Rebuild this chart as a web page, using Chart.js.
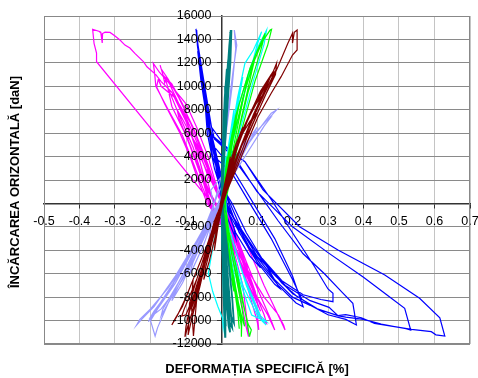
<!DOCTYPE html>
<html>
<head>
<meta charset="utf-8">
<script src="https://cdn.jsdelivr.net/npm/chart.js@4.4.0/dist/chart.umd.min.js"></script>
<style>
  html, body { margin: 0; padding: 0; background: #fff; }
  canvas { display: block; }
</style>
</head>
<body>
<canvas id="gaugeChart" width="478" height="378"></canvas>
<script>
// strain [%] vs. horizontal load [daN], one array per strain gauge
const gaugeDarkRed = [
  [0,0],[0.012,2000],[0.025,4000],[0.02,2500],[0.004,0],[-0.01,-2000],[-0.02,-4000],[-0.016,-2500],[-0.003,0],
  [0.015,2500],[0.04,5000],[0.06,6500],[0.05,5500],[0.025,2500],[0.002,0],[-0.015,-2500],[-0.035,-5000],[-0.05,-6500],[-0.045,-5500],[-0.02,-2500],[0,0],
  [0.02,3000],[0.05,5500],[0.08,7000],[0.099,7690],[0.085,7000],[0.05,4500],[0.01,1000],[-0.01,-1500],[-0.04,-4500],[-0.065,-7000],[-0.075,-8300],[-0.07,-7500],[-0.045,-4800],[-0.015,-1500],[0,0],
  [0.025,3200],[0.055,6000],[0.085,8000],[0.11,9000],[0.1,8200],[0.06,5200],[0.015,1200],[-0.012,-1800],[-0.045,-5000],[-0.07,-7800],[-0.085,-9000],[-0.08,-8200],[-0.05,-5200],[-0.018,-1800],[0,0],
  [0.03,3500],[0.065,6500],[0.1,8800],[0.13,10500],[0.15,11240],[0.14,10600],[0.1,8000],[0.05,4500],[0.01,1000],[-0.02,-2500],[-0.05,-5500],[-0.08,-8000],[-0.1,-9500],[-0.112,-9610],[-0.105,-9000],[-0.07,-6500],[-0.03,-2800],[0,0],
  [0.035,4000],[0.075,7200],[0.115,9500],[0.145,11200],[0.155,11960],[0.152,11000],[0.12,9000],[0.07,5500],[0.02,1500],[-0.02,-2200],[-0.06,-6000],[-0.09,-9000],[-0.1,-10500],[-0.103,-11380],[-0.095,-10500],[-0.07,-8000],[-0.035,-3800],[0,0],
  [0.03,3800],[0.07,7000],[0.11,9600],[0.14,11000],[0.13,10200],[0.09,7600],[0.04,3800],[0.005,500],[-0.03,-3000],[-0.06,-6200],[-0.085,-8600],[-0.095,-9800],[-0.09,-9200],[-0.06,-6500],[-0.025,-2500],[0,0],
  [0.046,4280],[0.084,6550],[0.122,9110],[0.159,11670],[0.187,13670],[0.2,14520],[0.2,13690],[0.205,14600],[0.213,14800],[0.213,13100],[0.2,12670],[0.168,10820],[0.14,9400],[0.103,7400],[0.075,5410],[0.04,2800],[0,0],
  [-0.04,-3500],[-0.08,-6500],[-0.11,-8800],[-0.13,-9800],[-0.14,-10380],[-0.125,-9600],[-0.1,-8000],[-0.08,-6500],[-0.085,-8500],[-0.079,-11320],[-0.07,-8250],[-0.05,-5000],[-0.02,-1500],[0,0],
  [-0.035,-3200],[-0.07,-6500],[-0.09,-8500],[-0.094,-11230],[-0.085,-10000],[-0.06,-7000],[-0.03,-3000],[0,0]
];

const gaugeTeal = [
  [0,0],[0.001,2000],[0.002,4000],[0.001,2000],[0,0],[0.004,-2000],[0.006,-4000],[0.005,-2000],[0.002,0],
  [0.002,3000],[0.005,6000],[0.006,8000],[0.004,5000],[0.001,1500],[0.003,-2000],[0.008,-5000],[0.012,-7000],[0.01,-5000],[0.004,-1500],[0.001,0],
  [0.004,4000],[0.008,8000],[0.012,10000],[0.01,8000],[0.004,4000],[0.002,0],[0.006,-4000],[0.012,-8000],[0.018,-9500],[0.015,-7500],[0.008,-3500],[0.002,0],
  [0.003,4000],[0.009,9000],[0.015,11500],[0.012,9000],[0.005,4000],[0.001,0],[0.003,-4000],[0.008,-8500],[0.012,-10500],[0.009,-8000],[0.004,-3000],[0,0],
  [0.005,5000],[0.012,9000],[0.018,12000],[0.022,13000],[0.018,10500],[0.01,6000],[0.003,1500],[0.004,-3000],[0.01,-7000],[0.02,-10000],[0.03,-10600],[0.024,-8500],[0.012,-4000],[0.003,0],
  [0.006,6000],[0.014,10000],[0.022,13500],[0.026,14800],[0.027,14000],[0.022,11000],[0.012,6500],[0.004,2000],[0.002,-3000],[0.006,-8000],[0.01,-11380],[0.012,-10500],[0.01,-7000],[0.004,-2500],[0,0],
  [0.007,6500],[0.016,11000],[0.024,14000],[0.028,14800],[0.025,12000],[0.015,7500],[0.005,2500],[0.001,-2000],[0.01,-6000],[0.025,-9500],[0.035,-10200],[0.03,-8000],[0.015,-3500],[0.002,0],
  [0.006,6000],[0.015,10500],[0.023,13800],[0.025,14600],[0.022,12500],[0.013,7500],[0.004,2000],[0.003,-3000],[0.012,-7500],[0.02,-10500],[0.024,-11000],[0.02,-8500],[0.01,-4000],[0,0]
];

const gaugeGreen = [
  [0,0],[0.008,2000],[0.016,4000],[0.012,2500],[0.002,0],[0.006,-2000],[0.012,-4000],[0.01,-2500],[0.002,0],
  [0.012,3000],[0.03,6000],[0.045,8000],[0.04,6800],[0.02,3200],[0.003,0],[0.012,-3000],[0.025,-6000],[0.035,-7500],[0.03,-6000],[0.014,-2500],[0.002,0],
  [0.015,3500],[0.04,7500],[0.065,10000],[0.075,11000],[0.065,9500],[0.035,5000],[0.005,0],[0.015,-3500],[0.035,-7000],[0.047,-9500],[0.05,-10700],[0.045,-9000],[0.025,-5000],[0.004,0],
  [0.018,3800],[0.045,8000],[0.075,11000],[0.095,12500],[0.085,11200],[0.05,6500],[0.01,500],[0.02,-3800],[0.04,-7500],[0.058,-9800],[0.065,-10500],[0.058,-9000],[0.03,-4500],[0.004,0],
  [0.02,4000],[0.05,8500],[0.08,11500],[0.1,13000],[0.123,14520],[0.11,13000],[0.075,9500],[0.035,4500],[0.006,0],[0.02,-4000],[0.045,-8000],[0.057,-10200],[0.057,-11380],[0.055,-10500],[0.035,-6500],[0.012,-2000],[0.002,0],
  [0.025,4500],[0.06,9000],[0.09,12000],[0.115,13800],[0.137,14800],[0.141,14860],[0.13,13500],[0.095,10500],[0.05,5500],[0.01,0],[0.03,-4500],[0.06,-8500],[0.075,-10300],[0.084,-10800],[0.08,-11230],[0.079,-11380],[0.07,-9800],[0.045,-6000],[0.015,-1500],[0,0]
];

const gaugeCyan = [
  [0,0],[0.006,2000],[0.012,4000],[0.008,2000],[0.001,0],[0.004,-2000],[0.01,-4000],[0.008,-2000],[0.002,0],
  [0.01,3000],[0.025,6000],[0.035,8000],[0.03,6500],[0.015,3000],[0.002,0],[0.01,-2500],[0.025,-5500],[0.04,-7500],[0.035,-6000],[0.015,-2500],[0.003,0],
  [0.015,3500],[0.035,7000],[0.055,10000],[0.06,10800],[0.05,9000],[0.025,4500],[0.004,0],[0.02,-3000],[0.05,-6500],[0.085,-9530],[0.127,-10100],[0.11,-9600],[0.06,-6000],[0.02,-2000],[0.002,0],
  [0.02,4500],[0.045,9000],[0.066,11960],[0.09,13100],[0.113,14660],[0.1,13500],[0.07,10000],[0.03,5000],[0.005,0],[-0.02,-3000],[-0.037,-5950],[-0.025,-7500],[-0.01,-8820],[0.003,-9800],[0.005,-10660],[0.008,-10000],[0.004,-6000],[0.001,-2000],[0,0],
  [0.02,4000],[0.05,8500],[0.08,11500],[0.105,13500],[0.127,14800],[0.12,13600],[0.09,10500],[0.05,6000],[0.01,1000],[0.02,-3000],[0.06,-7000],[0.1,-9500],[0.126,-10380],[0.11,-9900],[0.07,-7000],[0.025,-2500],[0,0]
];

const gaugeLavender = [
  [0,0],[0.01,1500],[0.025,3000],[0.02,2000],[0.004,0],[-0.015,-1500],[-0.035,-3000],[-0.03,-2000],[-0.01,-500],[0,0],
  [0.02,2500],[0.05,4500],[0.07,5500],[0.06,4600],[0.03,2600],[0,500],[-0.02,-1000],[-0.05,-3500],[-0.08,-5500],[-0.09,-6000],[-0.08,-5000],[-0.05,-3000],[-0.015,-800],[0,0],
  [0.03,3000],[0.07,5200],[0.1,6500],[0.085,5600],[0.04,3000],[0,500],[-0.03,-1500],[-0.07,-4200],[-0.11,-6800],[-0.14,-8300],[-0.13,-7600],[-0.09,-5200],[-0.04,-2000],[-0.01,0],
  [0.03,2800],[0.08,5300],[0.12,6900],[0.137,7280],[0.12,6600],[0.07,4200],[0.02,1800],[-0.01,0],[-0.05,-3000],[-0.1,-6000],[-0.15,-8500],[-0.17,-9600],[-0.165,-9000],[-0.12,-6700],[-0.06,-3300],[-0.02,-600],[-0.03,1140],
  [0.04,3800],[0.1,6200],[0.155,7970],[0.14,7700],[0.09,5700],[0.03,3100],[-0.01,800],[-0.04,-1500],[-0.1,-5000],[-0.16,-8000],[-0.2,-10000],[-0.187,-11320],[-0.18,-10600],[-0.15,-8500],[-0.1,-5500],[-0.05,-2500],[-0.01,0],
  [-0.03,-1200],[-0.08,-4000],[-0.13,-6800],[-0.18,-9000],[-0.206,-10100],[-0.19,-9300],[-0.14,-7000],[-0.08,-3800],[-0.02,-600],[0,0],
  [-0.035,-1800],[-0.09,-5000],[-0.14,-7800],[-0.17,-9000],[-0.2,-9700],[-0.19,-9200],[-0.15,-7600],[-0.1,-5000],[-0.045,-2000],[0,0],
  [0.005,4000],[0.02,8300],[0.033,11400],[0.043,13500],[0.036,14800],[0.04,13200],[0.03,10000],[0.015,6500],[0.002,2500],[-0.03,-1000],[-0.09,-4500],[-0.15,-7200],[-0.2,-9000],[-0.23,-9900],[-0.239,-10380],[-0.225,-9900],[-0.19,-8800],[-0.13,-6200],[-0.07,-3200],[-0.02,-500],[0,0]
];

const gaugeBlue = [
  [0,0],[-0.008,2000],[-0.013,4000],[-0.01,2000],[0.004,0],[0.02,-1500],[0.04,-3000],[0.035,-2000],[0.015,-500],[0.004,0],
  [-0.015,3000],[-0.03,6000],[-0.045,8000],[-0.04,6000],[-0.02,3000],[0.01,0],[0.04,-2500],[0.08,-4500],[0.11,-5500],[0.1,-5000],[0.06,-3000],[0.02,-800],[0.005,0],
  [-0.02,4000],[-0.04,8000],[-0.05,10000],[-0.045,8000],[-0.025,4000],[0.01,1000],[0.03,0],[0.07,-2500],[0.12,-5000],[0.164,-7250],[0.15,-6900],[0.1,-5000],[0.05,-2200],[0.015,0],
  [-0.02,4500],[-0.045,8500],[-0.058,11000],[-0.062,12000],[-0.056,10500],[-0.04,7500],[-0.02,4000],[0.029,2600],[0.08,0],[0.14,-3000],[0.2,-6500],[0.225,-8100],[0.215,-8000],[0.17,-6800],[0.1,-4200],[0.04,-1500],[0.01,0],
  [-0.025,5000],[-0.05,9000],[-0.06,11800],[-0.065,12670],[-0.06,11500],[-0.045,8000],[-0.025,5000],[0.03,3000],[0.09,0],[0.15,-3000],[0.2,-6200],[0.23,-8820],[0.21,-8500],[0.16,-7000],[0.11,-5200],[0.05,-2500],[0.02,0],
  [-0.03,5500],[-0.05,9500],[-0.065,12500],[-0.067,13000],[-0.058,10500],[-0.035,6000],[0.066,3560],[0.141,290],[0.2,-2500],[0.26,-5300],[0.3,-7300],[0.314,-7670],[0.314,-8390],[0.28,-8200],[0.23,-7800],[0.17,-6600],[0.1,-4200],[0.04,-1500],[0.01,0],
  [-0.035,6000],[-0.055,10500],[-0.068,13500],[-0.07,14800],[-0.066,13000],[-0.05,10000],[-0.03,6000],[0.03,4000],[0.09,1500],[0.16,-1500],[0.23,-4300],[0.29,-6000],[0.34,-7600],[0.37,-8530],[0.38,-10380],[0.35,-9900],[0.3,-9500],[0.25,-8700],[0.2,-8000],[0.15,-6500],[0.08,-3800],[0.02,-500],[0,1500],
  [-0.038,7000],[-0.06,11500],[-0.07,14200],[-0.064,12500],[-0.048,9000],[-0.02,5500],[0.04,3800],[0.1,1000],[0.2,-2000],[0.3,-4200],[0.4,-6300],[0.47,-7900],[0.516,-8960],[0.533,-10810],[0.52,-10700],[0.45,-10300],[0.4,-9900],[0.35,-9700],[0.33,-9600],[0.27,-9000],[0.2,-7700],[0.13,-5500],[0.06,-2500],[0.01,1000],
  [-0.04,7500],[-0.063,12500],[-0.072,14900],[-0.066,13500],[-0.05,10500],[-0.028,6500],[0.02,4500],[0.066,3560],[0.117,1150],[0.22,-1990],[0.328,-3980],[0.46,-6110],[0.558,-8100],[0.615,-9760],[0.629,-11320],[0.604,-11220],[0.591,-10950],[0.535,-10750],[0.431,-10240],[0.394,-9760],[0.35,-9500],[0.328,-9580],[0.303,-8870],[0.25,-8300],[0.18,-7000],[0.1,-4500],[0.03,-1000],[0,0]
];

const gaugeMagenta = [
  [0,0],[-0.02,1500],[-0.035,2500],[-0.04,2000],[-0.03,800],[-0.015,0],[0.01,-1000],[0.022,-2000],[0.016,-1000],[0.004,0],
  [-0.03,2000],[-0.05,4000],[-0.065,4500],[-0.06,3500],[-0.045,1800],[-0.02,0],[0.015,-1500],[0.035,-3000],[0.05,-4000],[0.045,-3000],[0.025,-1500],[0.006,0],
  [-0.04,2500],[-0.07,5000],[-0.09,6000],[-0.095,5500],[-0.07,3500],[-0.04,1200],[-0.02,0],[0.02,-2000],[0.05,-4000],[0.075,-6000],[0.07,-5000],[0.045,-3000],[0.01,0],
  [-0.045,3000],[-0.08,5500],[-0.11,7200],[-0.125,8000],[-0.12,7300],[-0.09,5000],[-0.06,2500],[-0.03,0],[0.03,-3000],[0.06,-5500],[0.09,-7500],[0.1,-8300],[0.095,-7500],[0.06,-4500],[0.02,-1000],[0,0],
  [-0.04,3000],[-0.08,6000],[-0.11,8000],[-0.14,9500],[-0.15,9700],[-0.14,8300],[-0.1,5800],[-0.06,2800],[-0.035,0],[0.035,-3500],[0.07,-6500],[0.1,-8500],[0.11,-9200],[0.1,-8400],[0.065,-5500],[0.02,-1500],[0,0],
  [-0.04,3500],[-0.08,6500],[-0.13,9000],[-0.17,10000],[-0.178,10600],[-0.183,9960],[-0.16,8500],[-0.117,6000],[-0.089,4000],[-0.066,2000],[-0.04,0],[0.03,-3000],[0.07,-6500],[0.1,-9000],[0.115,-10000],[0.127,-10240],[0.12,-9500],[0.08,-6500],[0.03,-2200],[0,0],
  [-0.038,4000],[-0.07,6500],[-0.1,8500],[-0.14,10000],[-0.175,11200],[-0.192,11960],[-0.188,11000],[-0.185,10000],[-0.15,8000],[-0.11,5800],[-0.08,3500],[-0.055,1500],[-0.035,0],[0.03,-3500],[0.06,-7000],[0.07,-9500],[0.076,-11380],[0.07,-10600],[0.05,-7500],[0.02,-3000],[0,0],
  [-0.045,3500],[-0.075,6000],[-0.11,8500],[-0.14,10200],[-0.16,10800],[-0.15,9800],[-0.12,7600],[-0.08,4800],[-0.045,1500],[-0.03,0],[0.04,-4200],[0.08,-7500],[0.1,-9200],[0.105,-10800],[0.1,-10000],[0.07,-6800],[0.025,-2200],[0,0],
  [-0.05,4000],[-0.08,6500],[-0.12,9000],[-0.15,10600],[-0.17,11500],[-0.173,11810],[-0.165,11000],[-0.16,10300],[-0.155,10800],[-0.14,9800],[-0.1,7200],[-0.06,3500],[-0.04,1000],[-0.03,0],[0.04,-4000],[0.09,-7500],[0.13,-9500],[0.15,-10800],[0.14,-10000],[0.09,-6500],[0.03,-2000],[0,0],
  [-0.06,4000],[-0.1,7000],[-0.14,9500],[-0.17,10400],[-0.185,11000],[-0.21,11670],[-0.22,12100],[-0.244,12810],[-0.258,13270],[-0.272,13520],[-0.286,13950],[-0.3,14290],[-0.314,14600],[-0.328,14620],[-0.335,14500],[-0.336,13700],[-0.34,14600],[-0.342,14660],[-0.363,14870],
  [-0.359,13670],[-0.352,12840],[-0.352,12100],[-0.042,570],[0,-1500],[0.06,-5000],[0.12,-8000],[0.16,-9500],[0.175,-10400],[0.179,-10800],[0.17,-10200],[0.12,-7000],[0.05,-2000],[0.01,0]
];

// drawn first = on top
const gauges = [
  { points: gaugeDarkRed, color: '#800000', width: 1.2 },
  { points: gaugeTeal, color: '#008080', width: 1.8 },
  { points: gaugeGreen, color: '#00FF00', width: 1.2 },
  { points: gaugeCyan, color: '#00FFFF', width: 1.2 },
  { points: gaugeLavender, color: '#9999FF', width: 1.2 },
  { points: gaugeBlue, color: '#0000FF', width: 1.2 },
  { points: gaugeMagenta, color: '#FF00FF', width: 1.2 }
];

const xTitle = 'DEFORMAȚIA SPECIFICĂ [%]';
const yTitle = 'ÎNCĂRCAREA ORIZONTALĂ [daN]';
const FONT = '"Liberation Sans", Arial, sans-serif';

// frame, y labels next to the zero line, axis titles
const decorations = {
  id: 'decorations',
  beforeDatasetsDraw(chart) {
    const { ctx, chartArea: a } = chart;
    ctx.save();
    ctx.strokeStyle = '#888';
    ctx.lineWidth = 1;
    ctx.strokeRect(a.left + 0.5, a.top + 0.5, a.width - 1, a.height - 1);
    ctx.restore();
  },
  afterDatasetsDraw(chart) {
    const { ctx, chartArea: a, scales: { x, y } } = chart;
    const x0 = x.getPixelForValue(0);
    ctx.save();
    ctx.fillStyle = '#000';
    ctx.font = '12.5px ' + FONT;
    ctx.textAlign = 'right';
    ctx.textBaseline = 'middle';
    y.ticks.forEach(t => ctx.fillText(String(t.value), x0 - 10, y.getPixelForValue(t.value)));

    ctx.font = 'bold 13px ' + FONT;
    ctx.textAlign = 'center';
    ctx.fillText(xTitle, (a.left + a.right) / 2, 369);
    ctx.translate(15, (a.top + a.bottom) / 2 + 2);
    ctx.rotate(-Math.PI / 2);
    ctx.fillText(yTitle, 0, 0);
    ctx.restore();
  }
};

new Chart(document.getElementById('gaugeChart'), {
  type: 'scatter',
  data: {
    datasets: gauges.map(g => ({
      data: g.points.map(([x, y]) => ({ x, y })),
      borderColor: g.color,
      backgroundColor: g.color,
      borderWidth: g.width,
      showLine: true,
      pointRadius: 0,
      tension: 0
    }))
  },
  options: {
    responsive: false,
    animation: false,
    layout: { padding: { left: 44, top: 16, right: 8, bottom: 34 } },
    plugins: { legend: { display: false }, tooltip: { enabled: false } },
    scales: {
      x: {
        type: 'linear',
        min: -0.5,
        max: 0.7,
        position: { y: 0 },
        ticks: {
          stepSize: 0.1,
          autoSkip: false,
          maxRotation: 0,
          padding: 7,
          color: '#000',
          font: { family: FONT, size: 12.5 },
          callback: v => v.toFixed(1)
        },
        grid: { color: '#c4c4c4', lineWidth: 1, tickLength: 4, tickColor: '#333' },
        border: { color: '#333', width: 1.5 },
        afterFit: s => { s.height = 0; s.paddingLeft = 0; s.paddingRight = 0; }
      },
      y: {
        type: 'linear',
        min: -12000,
        max: 16000,
        position: { x: 0 },
        ticks: { stepSize: 2000, display: false },
        grid: { color: '#8a8a8a', lineWidth: 1, tickLength: 4, tickColor: '#333' },
        border: { color: '#333', width: 1.5 },
        afterFit: s => { s.width = 0; s.paddingTop = 0; s.paddingBottom = 0; }
      }
    }
  },
  plugins: [decorations]
});
</script>
</body>
</html>
